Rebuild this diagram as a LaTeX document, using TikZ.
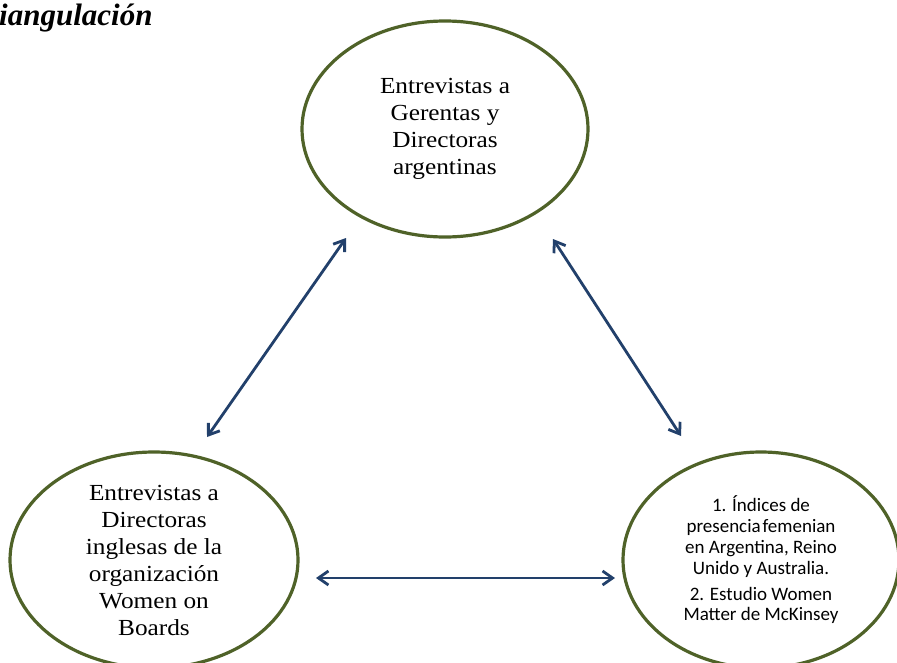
\documentclass[tikz,border=0pt]{standalone}
\usepackage{fontspec}
\setmainfont{Liberation Serif}
\newfontfamily\wideserif[FakeStretch=1.1]{Liberation Serif}
\newfontfamily\calib{Carlito}
\usetikzlibrary{shapes.geometric,arrows.meta}
\definecolor{ringgreen}{HTML}{4F6228}
\definecolor{arrowblue}{HTML}{22406B}
\tikzset{
  ring/.style={ellipse, draw=ringgreen, line width=3.2pt, inner sep=0pt, align=center,
    minimum width=286pt, minimum height=216pt},
  serifbox/.style={font=\wideserif\fontsize{23}{27}\selectfont},
  calibbox/.style={font=\calib\fontsize{19}{20.8}\selectfont},
  link/.style={draw=arrowblue, line width=2.8pt,
    {Straight Barb[length=10pt,width=14pt]}-{Straight Barb[length=10pt,width=14pt]}}
}
\begin{document}
\begin{tikzpicture}[x=1pt,y=-1pt]
\useasboundingbox (0,0) rectangle (897,662);
\clip (0,0) rectangle (897,662);
\fill[white] (0,0) rectangle (897,662);
\node[anchor=base west, inner sep=0pt, font=\fontsize{31}{34}\selectfont\bfseries\itshape] (title) at (-1,25) {iangulación};
\node[ring, serifbox] (top) at (445,129) {Entrevistas a\\Gerentas y\\Directoras\\argentinas};
\node[ring, serifbox, minimum width=288pt] (left) at (154,560) {Entrevistas a\\Directoras\\inglesas de la\\organización\\Women on\\Boards};
\node[ring, calibbox, minimum width=276pt] (right) at (761,560) {1. Índices de\\presencia\hspace{0.1em}femenian\\en Argentina, Reino\\Unido y Australia.\\[5pt]2. Estudio Women\\Matter de McKinsey};
\coordinate (a1s) at (207,437);
\coordinate (a1e) at (346,238);
\coordinate (a2s) at (553,239);
\coordinate (a2e) at (681,436);
\coordinate (a3s) at (316,578);
\coordinate (a3e) at (615,578);
\draw[link] (a1s) -- (a1e);
\draw[link] (a2s) -- (a2e);
\draw[link] (a3s) -- (a3e);
\end{tikzpicture}
\end{document}
